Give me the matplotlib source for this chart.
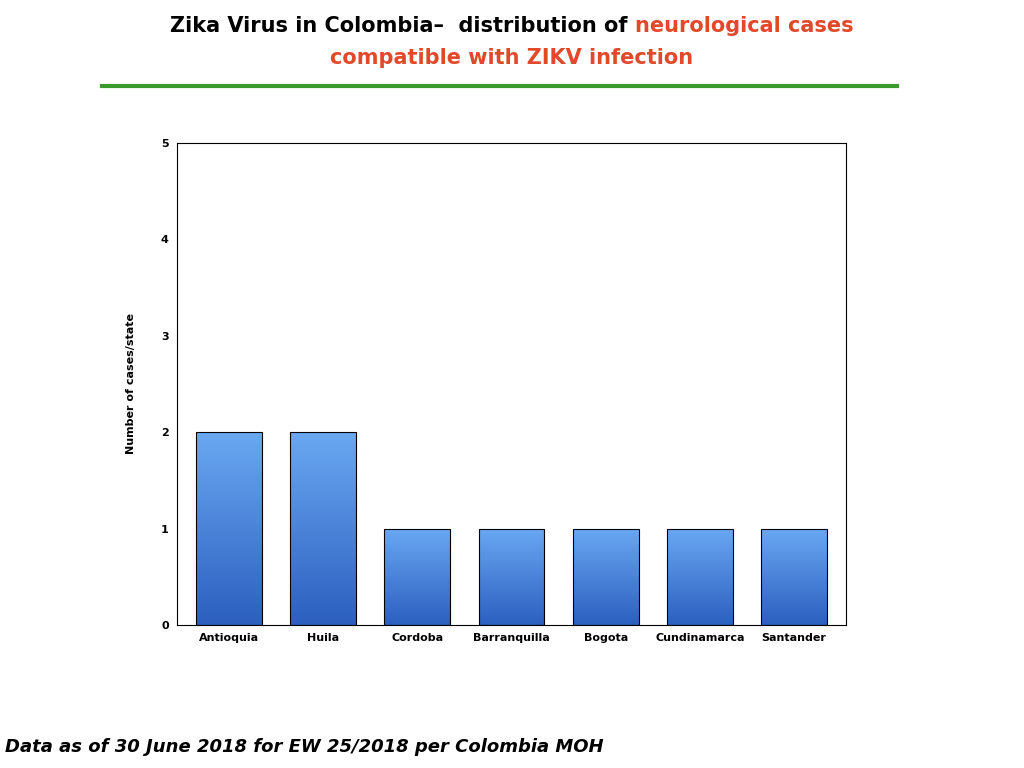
import matplotlib
matplotlib.use("Agg")
import matplotlib.pyplot as plt
import numpy as np

states = ["Antioquia", "Huila", "Cordoba", "Barranquilla", "Bogota", "Cundinamarca", "Santander"]
cases = [2, 2, 1, 1, 1, 1, 1]

fig = plt.figure(figsize=(10.24, 7.68), dpi=100)
ax = fig.add_axes([0.173, 0.186, 0.653, 0.628])

x = np.arange(len(states))
bars = ax.bar(x, cases, width=0.7, color="none", edgecolor="black", linewidth=0.8, zorder=3)
grad = np.linspace(0, 1, 256).reshape(-1, 1)
cmap = matplotlib.colors.LinearSegmentedColormap.from_list("b", ["#2c5fbf", "#6aa8f2"])
for b in bars:
    im = ax.imshow(grad, cmap=cmap, origin="lower", aspect="auto",
                   extent=[b.get_x(), b.get_x() + b.get_width(), 0, b.get_height()], zorder=2)
    im.set_clip_path(b)

ax.set_xlim(-0.55, len(states) - 0.45)
ax.set_ylim(0, 5)
ax.set_xticks(x)
ax.set_xticklabels(states, fontsize=8, fontweight="bold")
ax.set_yticks(range(6))
ax.set_yticklabels([str(i) for i in range(6)], fontsize=8, fontweight="bold")
ax.tick_params(length=0, pad=6)
ax.set_ylabel("Number of cases/state", fontsize=8, fontweight="bold", labelpad=18)

# title with mixed colours
red = "#e2492b"
t1 = "Zika Virus in Colombia\u2013  distribution of "
t2 = "neurological cases"
fs = 15
r = fig.canvas.get_renderer()
a = fig.text(0, 0, t1, fontsize=fs, fontweight="bold")
b = fig.text(0, 0, t2, fontsize=fs, fontweight="bold", color=red)
w1 = a.get_window_extent(r).width / 1024
w2 = b.get_window_extent(r).width / 1024
x0 = 0.5 - (w1 + w2) / 2
a.set_position((x0, 1 - 32 / 768))
b.set_position((x0 + w1, 1 - 32 / 768))
fig.text(0.5, 1 - 64 / 768, "compatible with ZIKV infection", fontsize=fs,
         fontweight="bold", color=red, ha="center")
fig.add_artist(plt.Line2D([102 / 1024, 897 / 1024], [1 - 86 / 768] * 2, color="#3b9a2b", linewidth=3))

fig.text(5 / 1024, 1 - 752 / 768, "Data as of 30 June 2018 for EW 25/2018 per Colombia MOH",
         fontsize=13, fontweight="bold", style="italic")

fig.savefig("out.png", dpi=100)
